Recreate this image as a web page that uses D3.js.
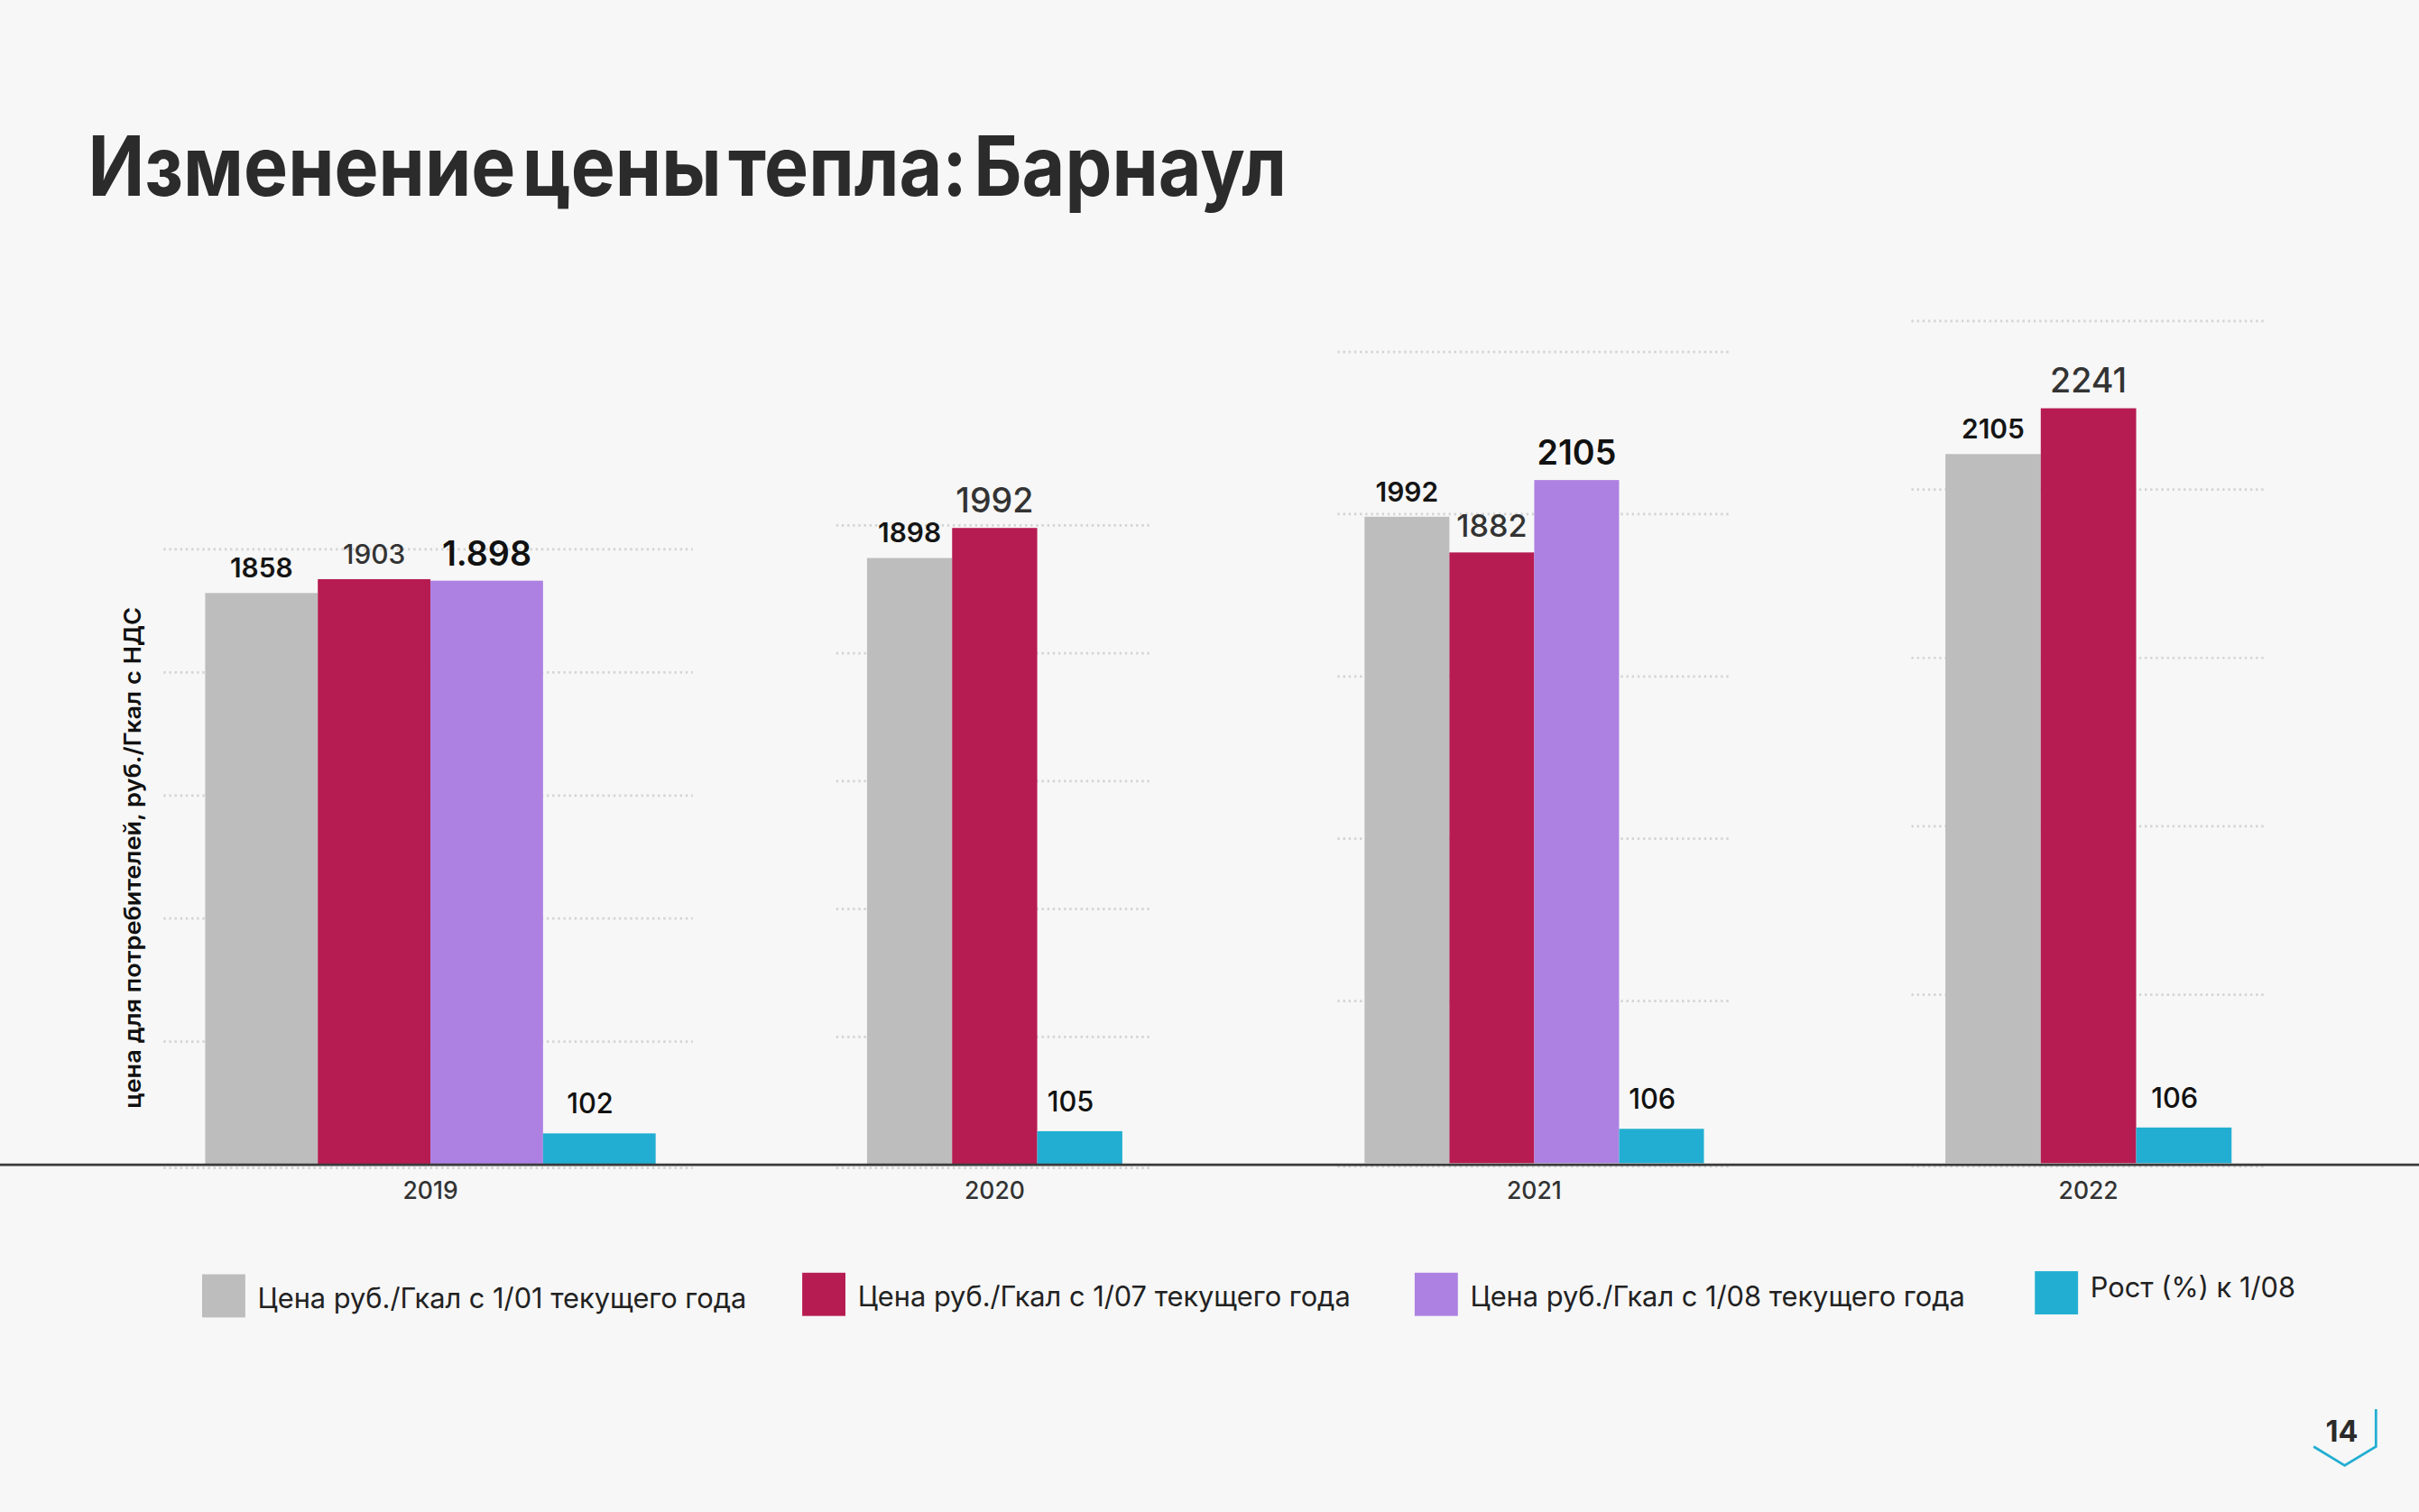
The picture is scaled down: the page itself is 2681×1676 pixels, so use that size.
<!DOCTYPE html>
<html lang="ru">
<head>
<meta charset="utf-8">
<title>Изменение цены тепла: Барнаул</title>
<script src="https://d3js.org/d3.v7.min.js"></script>
<style>
  html, body { margin: 0; padding: 0; background: #f7f7f7; }
  svg { display: block; }
  text { font-family: Inter, "Noto Sans", sans-serif; }
</style>
</head>
<body>
<div id="chart"></div>
<script>
// data
var years = ["2019", "2020", "2021", "2022"];
var seriesNames = [
  "Цена руб./Гкал с 1/01 текущего года",
  "Цена руб./Гкал с 1/07 текущего года",
  "Цена руб./Гкал с 1/08 текущего года",
  "Рост (%) к 1/08"
];
var priceJan = [1858, 1898, 1992, 2105];
var priceJul = [1903, 1992, 1882, 2241];
var priceAug = [1898, null, 2105, null];
var growth   = [102, 105, 106, 106];
var augLabels = ["1.898", null, "2105", null];
var yMax  = [2000, 2000, 2500, 2500];
var yStep = [400, 400, 500, 500];

var colors = ["#bdbdbd", "#b61c51", "#ad81e2", "#22aed2"];

// every year is its own little panel (units of a 1568 x 980 slide)
var panels = [
  {x0: 133, x1: 425, g0: 106, g1: 449, top: 356, base: 755},
  {x0: 562, x1: 727.5, g0: 542, g1: 745, top: 340.5, base: 755},
  {x0: 884.5, x1: 1104.5, g0: 867, g1: 1122, top: 228, base: 754},
  {x0: 1261, x1: 1446.5, g0: 1239, g1: 1468, top: 208, base: 754}
];
var labelSize = [[17.5, 17.5, 17.5, 17.5], [17.5, 22, 20, 22], [22, 0, 22, 0], [18, 18, 18, 18]];
var labelFill = ["#151515", "#333", "#111", "#111"];
var labelWeight = [600, 500, 600, 500];

var W = 1568, H = 980;
var svg = d3.select("#chart").append("svg")
  .attr("width", 2681).attr("height", 1676)
  .attr("viewBox", "0 0 " + W + " " + H);

svg.append("rect").attr("width", W).attr("height", H).attr("fill", "#f7f7f7");

svg.append("text")
  .attr("x", 57).attr("y", 127)
  .attr("font-size", 54).attr("font-weight", 700)
  .attr("fill", "#2b2b2b")
  .attr("word-spacing", -8)
  .attr("textLength", 777).attr("lengthAdjust", "spacingAndGlyphs")
  .text("Изменение цены тепла: Барнаул");

var allSeries = [priceJan, priceJul, priceAug, growth];

years.forEach(function (yr, i) {
  var p = panels[i];
  var y = d3.scaleLinear().domain([0, yMax[i]]).range([p.base, p.top]);
  var present = d3.range(4).filter(function (s) { return allSeries[s][i] != null; });
  var x = d3.scaleBand().domain(present).range([p.x0, p.x1]).padding(0);
  var g = svg.append("g");

  // dotted grid
  g.selectAll("line.grid")
    .data(d3.range(0, yMax[i] + 1, yStep[i]))
    .enter().append("line")
    .attr("x1", p.g0).attr("x2", p.g1)
    .attr("y1", function (d) { return y(d) + (d === 0 ? 2 : 0); })
    .attr("y2", function (d) { return y(d) + (d === 0 ? 2 : 0); })
    .attr("stroke", "#d4d4d4").attr("stroke-width", 1.6)
    .attr("stroke-dasharray", "1.4,2.2");

  g.selectAll("rect.bar")
    .data(present)
    .enter().append("rect")
    .attr("x", function (s) { return x(s); })
    .attr("width", x.bandwidth())
    .attr("y", function (s) { return y(allSeries[s][i]); })
    .attr("height", function (s) { return p.base - y(allSeries[s][i]); })
    .attr("fill", function (s) { return colors[s]; });

  g.selectAll("text.val")
    .data(present)
    .enter().append("text")
    .attr("x", function (s) { return x(s) + x.bandwidth() / 2 - (s === 3 ? 6 : 0); })
    .attr("y", function (s) { return y(allSeries[s][i]) - (s === 3 ? 13 : 10); })
    .attr("text-anchor", "middle")
    .attr("font-size", function (s) { return labelSize[s][i]; })
    .attr("font-weight", function (s) { return labelWeight[s]; })
    .attr("fill", function (s) { return labelFill[s]; })
    .text(function (s) { return s === 2 ? augLabels[i] : allSeries[s][i]; });

  g.append("text")
    .attr("x", (p.x0 + p.x1) / 2).attr("y", 777)
    .attr("text-anchor", "middle")
    .attr("font-size", 15.5).attr("font-weight", 500)
    .attr("fill", "#333")
    .text(yr);
});

// baseline
svg.append("line")
  .attr("x1", 0).attr("x2", W).attr("y1", 755).attr("y2", 755)
  .attr("stroke", "#3a3a3a").attr("stroke-width", 1.5);

svg.append("text")
  .attr("transform", "translate(91,556) rotate(-90)")
  .attr("text-anchor", "middle")
  .attr("font-size", 15).attr("font-weight", 600)
  .attr("fill", "#111")
  .attr("textLength", 325).attr("lengthAdjust", "spacingAndGlyphs")
  .text("цена для потребителей, руб./Гкал с НДС");

// legend
var legendX = [131, 520, 917, 1319];
var legendY = [826, 825, 825, 824];
var legend = svg.selectAll("g.legend")
  .data(seriesNames)
  .enter().append("g")
  .attr("transform", function (d, k) { return "translate(" + legendX[k] + "," + legendY[k] + ")"; });
legend.append("rect")
  .attr("width", 28).attr("height", 28)
  .attr("fill", function (d, k) { return colors[k]; });
legend.append("text")
  .attr("x", 36).attr("y", function (d, k) { return k === 3 ? 17 : 22; })
  .attr("font-size", 18).attr("fill", "#222")
  .text(function (d) { return d; });

// page number
svg.append("path")
  .attr("d", "M1499.7,937.7L1519.8,950L1540.1,937.7L1540.1,913.4")
  .attr("fill", "none").attr("stroke", "#22aed2").attr("stroke-width", 1.6);
svg.append("text")
  .attr("x", 1518).attr("y", 934.5)
  .attr("text-anchor", "middle")
  .attr("font-size", 19).attr("font-weight", 700)
  .attr("fill", "#2b2b2b")
  .text("14");
</script>
</body>
</html>
